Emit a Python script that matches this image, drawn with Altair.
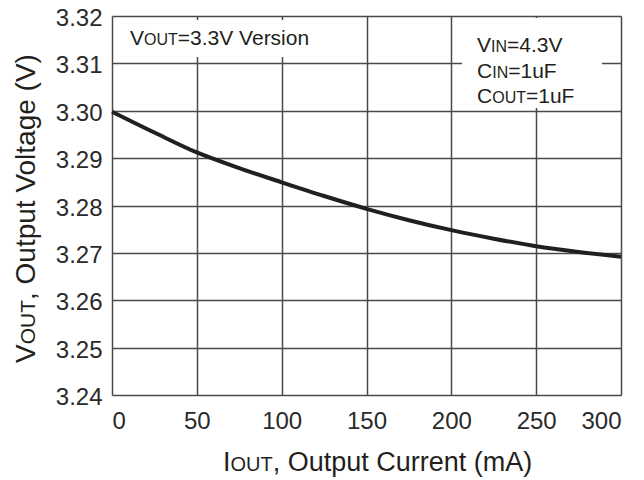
import altair as alt
import pandas as pd

# Data
current_ma = [0, 25, 50, 75, 100, 125, 150, 175, 200, 225, 250, 275, 300]
vout_v = [3.2998, 3.2954, 3.2912, 3.2879, 3.2849, 3.2820, 3.2793, 3.2769, 3.2748, 3.2730, 3.2714, 3.2702, 3.2692]
x_ticks = [0, 50, 100, 150, 200, 250, 300]
y_ticks = [3.24, 3.25, 3.26, 3.27, 3.28, 3.29, 3.30, 3.31, 3.32]

FONT = "Liberation Sans"
INK = "#231f20"
W, H = 509, 379
TOP = 8

df = pd.DataFrame({"I": current_ma, "V": vout_v})
one = pd.DataFrame({"k": [0]})

base = alt.Chart(df)

line = base.mark_line(color=INK, strokeWidth=4, interpolate="monotone").encode(
    x=alt.X("I:Q", scale=alt.Scale(domain=[0, 300], nice=False),
            axis=alt.Axis(values=x_ticks, title=None, labelFont=FONT, labelFontSize=24,
                          labelColor="#2a2a2a", labelPadding=14, ticks=False, domain=False,
                          grid=True, gridColor="#4a4a4a", gridWidth=1.5, gridOpacity=1)),
    y=alt.Y("V:Q", scale=alt.Scale(domain=[3.24, 3.32], nice=False, zero=False),
            axis=alt.Axis(values=y_ticks, format=".2f", title=None, labelFont=FONT,
                          labelFontSize=24, labelColor="#2a2a2a", labelPadding=10,
                          labelOffset=2.5, ticks=False, domain=False, grid=True,
                          gridColor="#4a4a4a", gridWidth=1.5, gridOpacity=1)),
)


def box(x1, x2, y1, y2):
    return alt.Chart(one).mark_rect(color="white").encode(
        x=alt.value(x1), x2=alt.value(x2), y=alt.value(y1), y2=alt.value(y2))


def txt(s, x, y, size, angle=0):
    m = alt.Chart(one).mark_text(text=s, font=FONT, fontSize=size, color=INK,
                                 align="left", baseline="alphabetic", angle=angle)
    return m.encode(x=alt.value(x), y=alt.value(y))


layers = [
    box(2, 218, 4, 41),
    box(350, 490, 2, 92),
    line,
    # top-left note
    txt("V", 18, 29, 21), txt("OUT", 32, 29, 16), txt("=3.3V Version", 65.8, 29, 21),
    # top-right note
    txt("V", 365, 36, 21), txt("IN", 379, 36, 16), txt("=4.3V", 395, 36, 21),
    txt("C", 365, 62, 21), txt("IN", 380.2, 62, 16), txt("=1uF", 396.2, 62, 21),
    txt("C", 365, 87, 21), txt("OUT", 380.2, 87, 16), txt("=1uF", 414, 87, 21),
    # x title
    txt("I", 111, 455, 27), txt("OUT", 118.5, 455, 20), txt(", Output Current (mA)", 160.7, 455, 27),
    # y title
    txt("V", -77, 347, 28, 270), txt("OUT", -77, 328.3, 21, 270),
    txt(", Output Voltage (V)", -77, 284, 28, 270),
]

chart = alt.layer(*layers).properties(
    width=W, height=H,
    autosize=alt.AutoSizeParams(type="none"),
    padding={"left": 104, "top": TOP, "right": 15, "bottom": 85},
).configure_view(stroke="#333333", strokeWidth=1.8).configure(background="white")

chart.save("out.html", embed_options={"renderer": "svg", "actions": False})
